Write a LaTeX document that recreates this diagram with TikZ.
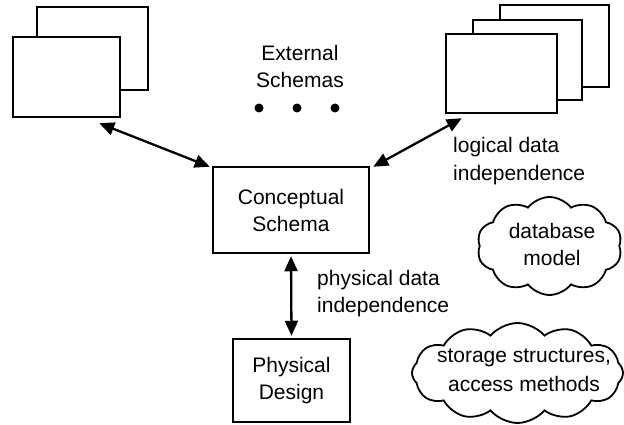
\documentclass[tikz,border=0pt]{standalone}
\usepackage{fontspec}
\setmainfont{Liberation Sans}
\usetikzlibrary{arrows.meta,shapes.symbols,calc}

\tikzset{
  schemabox/.style={draw, line width=2.5pt, fill=white, inner sep=0pt},
  label/.style={font=\fontsize{21}{27}\selectfont, inner sep=0pt},
  link/.style={line width=2.3pt, {Triangle[length=15pt,width=13pt]}-{Triangle[length=15pt,width=13pt]}},
  puff/.style={cloud, draw, line width=1.8pt, cloud ignores aspect, inner sep=0pt},
  dotmark/.style={circle, fill=black, inner sep=0pt, minimum size=9pt}
}

\begin{document}
\begin{tikzpicture}[x=1pt,y=-1pt]
\useasboundingbox (0,0) rectangle (624,425);

% external schemas, left stack
\node[schemabox, minimum width=111pt, minimum height=83pt] (lb) at (92.5,48.5) {};
\node[schemabox, minimum width=107pt, minimum height=80pt] (lf) at (66.5,77) {};

% external schemas, right stack
\node[schemabox, minimum width=109pt, minimum height=82pt] (rb) at (554.5,46) {};
\node[schemabox, minimum width=109pt, minimum height=80pt] (rm) at (527.5,60) {};
\node[schemabox, minimum width=111pt, minimum height=79pt] (rf) at (501.5,73.5) {};

\node[label, align=center] (ext) at (300,66) {External\\Schemas};
\node[dotmark] (d1) at (259,108) {};
\node[dotmark] (d2) at (297,108) {};
\node[dotmark] (d3) at (335,108) {};

% conceptual and physical levels
\node[schemabox, label, align=center, minimum width=156pt, minimum height=86pt] (cs) at (291,210) {Conceptual\\Schema};
\node[schemabox, label, align=center, minimum width=117pt, minimum height=83pt] (pd) at (291.5,380.5) {Physical\\Design};

% mappings between the levels
\draw[link] ($(lf.south east)+(-22,5)$) -- ($(cs.north west)+(-2,1)$);
\draw[link] ($(rf.south west)+(17,4)$) -- ($(cs.north east)+(3,1)$);
\draw[link] ($(cs.south)+(0,2)$) -- ($(pd.north)+(0,-2)$);

\node[label, align=left, anchor=west] (ldi) at (453,160.6) {logical data\\[1pt]independence};
\node[label, align=left, anchor=west] (pdi) at (317,294) {physical data\\independence};

% clouds
\node[puff, cloud puffs=10, cloud puff arc=105, minimum width=145pt, minimum height=98pt] (dbm) at (549.5,246) {};
\node[label, align=center] (dbt) at (552,244) {database\\model};
\node[puff, cloud puffs=12, cloud puff arc=100, minimum width=211pt, minimum height=100pt] (ssm) at (517.5,373) {};
\node[label, align=center, font=\fontsize{21}{29}\selectfont] (sst) at (524,370.5) {storage structures,\\access methods};
\end{tikzpicture}
\end{document}
